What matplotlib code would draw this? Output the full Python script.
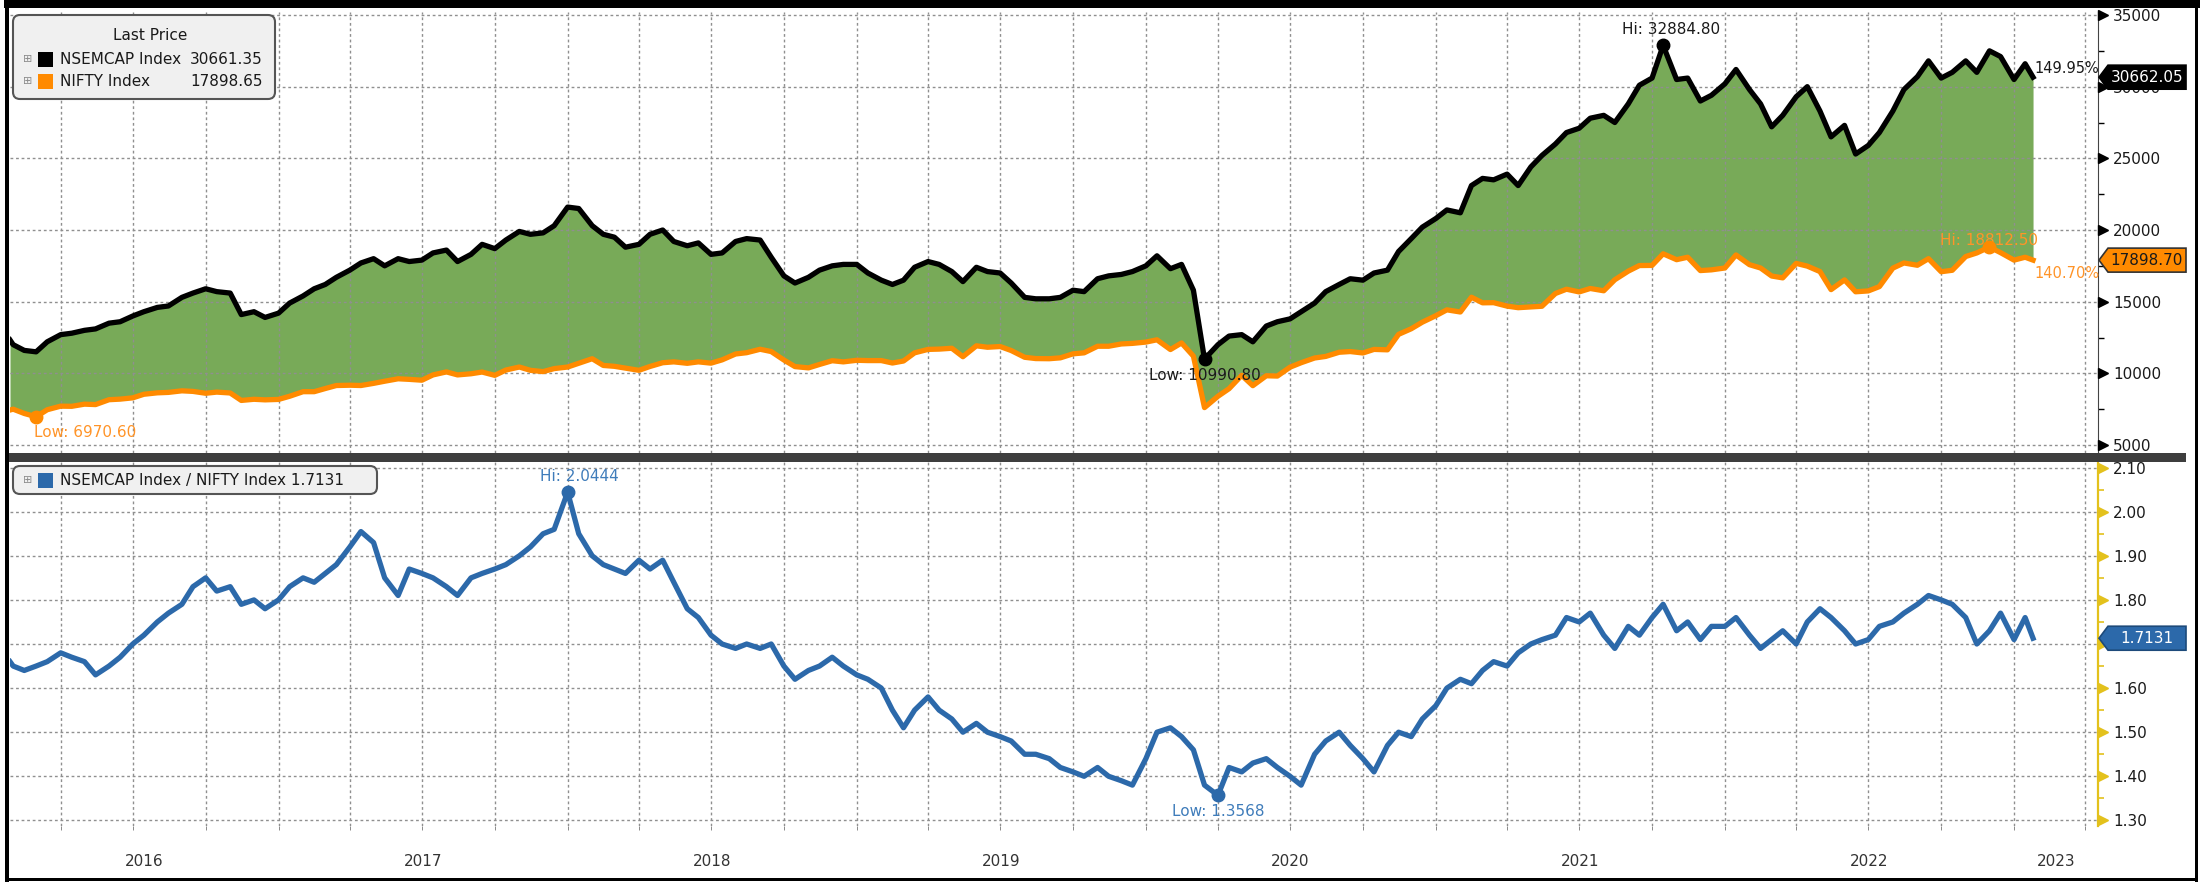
import matplotlib
matplotlib.use("Agg")
import matplotlib.pyplot as plt
import matplotlib.dates as mdates
import numpy as np
import pandas as pd
from matplotlib.patches import Rectangle, FancyBboxPatch, Polygon
from matplotlib.ticker import MultipleLocator, FormatStrFormatter, NullLocator

plt.rcParams['font.family'] = ['DejaVu Sans']

#Datas: 28/01/2016, dias 1 e 15 de cada mes, ultimo pregao 25/01/2023
datas = pd.DatetimeIndex(['2016-01-28']).append(
    pd.date_range('2016-02-01', '2023-01-15', freq='SMS')).append(
    pd.DatetimeIndex(['2023-01-25']))

nsemcap = [
    12330, 12000, 11600, 11500, 12200, 12700, 12800, 13000, 13100, 13500, 13600, 14000,
    14300, 14600, 14700, 15300, 15600, 15900, 15700, 15600, 14100, 14300, 13900,
    14200, 14900, 15400, 15900, 16200, 16700, 17200, 17700, 18000, 17500, 18000, 17800,
    17900, 18400, 18600, 17800, 18300, 19000, 18700, 19300, 19900, 19700, 19800, 20300,
    21600, 21500, 20300, 19700, 19500, 18800, 19000, 19700, 20000, 19200, 18900, 19100,
    18300, 18400, 19200, 19400, 19300, 18100, 16800, 16300, 16700, 17200, 17500, 17600,
    17600, 17000, 16500, 16200, 16500, 17400, 17800, 17600, 17100, 16400, 17400, 17100,
    17000, 16300, 15300, 15200, 15200, 15300, 15800, 15700, 16600, 16800, 16900, 17100,
    17500, 18200, 17300, 17600, 15800, 10990.80, 12000, 12600, 12700, 12200, 13300, 13600,
    13800, 14300, 14900, 15700, 16200, 16600, 16500, 17000, 17200, 18500, 19400, 20200,
    20800, 21400, 21200, 23100, 23600, 23500, 23900, 23100, 24400, 25200, 26000, 26800,
    27100, 27800, 28000, 27500, 28800, 30100, 30600, 32884.80, 30500, 30600, 29000, 29400,
    30200, 31200, 29800, 28800, 27200, 28000, 29300, 30000, 28300, 26500, 27300, 25300,
    25900, 26800, 28300, 29800, 30700, 31800, 30600, 31000, 31800, 31000, 32500, 32100,
    30500, 31600, 30662.05]

nifty = [
    7440, 7500, 7200, 6970.60, 7460, 7710, 7700, 7850, 7820, 8160, 8200, 8290,
    8540, 8640, 8670, 8780, 8740, 8610, 8690, 8630, 8110, 8190, 8150,
    8180, 8400, 8720, 8720, 8940, 9150, 9170, 9150, 9300, 9450, 9620, 9580,
    9520, 9890, 10100, 9890, 9970, 10090, 9860, 10230, 10440, 10210, 10120, 10330,
    10440, 10700, 11020, 10550, 10490, 10360, 10210, 10480, 10740, 10800, 10700, 10800,
    10710, 10940, 11350, 11440, 11680, 11520, 10930, 10470, 10380, 10620, 10880, 10800,
    10910, 10890, 10890, 10720, 10860, 11430, 11670, 11690, 11750, 11160, 11920, 11820,
    11870, 11590, 11120, 11030, 11020, 11080, 11360, 11430, 11890, 11890, 12050, 12090,
    12180, 12340, 11660, 12120, 11200, 7610, 8400, 8930, 9860, 9140, 9830, 9810,
    10430, 10740, 11070, 11180, 11470, 11520, 11420, 11670, 11640, 12720, 13110, 13570,
    14020, 14430, 14280, 15310, 14920, 14930, 14690, 14580, 14630, 14680, 15570, 15870,
    15680, 15920, 15760, 16530, 17130, 17520, 17530, 18340, 17930, 18100, 17170, 17220,
    17350, 18260, 17580, 17350, 16790, 16660, 17670, 17480, 17100, 15840, 16520, 15690,
    15750, 16050, 17340, 17700, 17540, 18000, 17090, 17190, 18150, 18400, 18812.50, 18420,
    17900, 18100, 17898.70]

razao = [
    1.66, 1.65, 1.64, 1.65, 1.66, 1.68, 1.67, 1.66, 1.63, 1.65, 1.67, 1.70,
    1.72, 1.75, 1.77, 1.79, 1.83, 1.85, 1.82, 1.83, 1.79, 1.80, 1.78,
    1.80, 1.83, 1.85, 1.84, 1.86, 1.88, 1.92, 1.955, 1.93, 1.85, 1.81, 1.87,
    1.86, 1.85, 1.83, 1.81, 1.85, 1.86, 1.87, 1.88, 1.90, 1.92, 1.95, 1.96,
    2.0444, 1.95, 1.90, 1.88, 1.87, 1.86, 1.89, 1.87, 1.89, 1.84, 1.78, 1.76,
    1.72, 1.70, 1.69, 1.70, 1.69, 1.70, 1.65, 1.62, 1.64, 1.65, 1.67, 1.65,
    1.63, 1.62, 1.60, 1.55, 1.51, 1.55, 1.58, 1.55, 1.53, 1.50, 1.52, 1.50,
    1.49, 1.48, 1.45, 1.45, 1.44, 1.42, 1.41, 1.40, 1.42, 1.40, 1.39, 1.38,
    1.44, 1.50, 1.51, 1.49, 1.46, 1.38, 1.3568, 1.42, 1.41, 1.43, 1.44, 1.42,
    1.40, 1.38, 1.45, 1.48, 1.50, 1.47, 1.44, 1.41, 1.47, 1.50, 1.49, 1.53,
    1.56, 1.60, 1.62, 1.61, 1.64, 1.66, 1.65, 1.68, 1.70, 1.71, 1.72, 1.76,
    1.75, 1.77, 1.72, 1.69, 1.74, 1.72, 1.76, 1.79, 1.73, 1.75, 1.71, 1.74,
    1.74, 1.76, 1.72, 1.69, 1.71, 1.73, 1.70, 1.75, 1.78, 1.76, 1.73, 1.70,
    1.71, 1.74, 1.75, 1.77, 1.79, 1.81, 1.80, 1.79, 1.76, 1.70, 1.73, 1.77,
    1.71, 1.76, 1.7131]

legendaNsemcap = '30661.35'
legendaNifty = '17898.65'
varNsemcap = '149.95%'
varNifty = '140.70%'
anos = [2016, 2017, 2018, 2019, 2020, 2021, 2022, 2023]

#Cores
corVerde = '#78aa58'
corLaranja = '#ff8a00'
corLaranjaTxt = '#ff9428'
corAzul = '#2c69aa'
corAzulTxt = '#3f7cba'
corAmarelo = '#e3c11c'
corGrade = '#8f8f8f'

W, H = 2200, 884
fig = plt.figure(figsize=(W / 100, H / 100), dpi=100, facecolor='white')

axTop = fig.add_axes([10 / W, 1 - 453 / H, 2088 / W, 441 / H])
axBot = fig.add_axes([10 / W, 1 - 826 / H, 2088 / W, 364 / H])

xIni = pd.Timestamp('2016-01-28')
xFim = pd.Timestamp('2023-04-17')

#Painel de cima: precos
axTop.fill_between(datas, nifty, nsemcap, color=corVerde, lw=0, zorder=1)
axTop.plot(datas, nifty, color=corLaranja, lw=3.8, zorder=3, solid_joinstyle='round')
axTop.plot(datas, nsemcap, color='black', lw=3.8, zorder=4, solid_joinstyle='round')

#Painel de baixo: razao
axBot.plot(datas, razao, color=corAzul, lw=3.8, zorder=3, solid_joinstyle='round')

gradeKw = dict(color=corGrade, linestyle=(0, (2, 2)), linewidth=1.0)
for ax in [axTop, axBot]:
    ax.set_xlim(xIni, xFim)
    ax.set_axisbelow('line')
    ax.set_facecolor('white')
    for s in ['top', 'left', 'bottom']:
        ax.spines[s].set_visible(False)
    ax.xaxis.set_minor_locator(mdates.MonthLocator(bymonth=[1, 4, 7, 10]))
    ax.grid(axis='x', which='minor', **gradeKw)
    ax.grid(axis='y', which='major', **gradeKw)
    ax.yaxis.tick_right()
    ax.tick_params(axis='y', which='major', length=0, pad=11, labelsize=11, labelcolor='#1a1a1a')

axTop.set_ylim(4442, 35210)
axTop.yaxis.set_major_locator(MultipleLocator(5000))
axTop.yaxis.set_minor_locator(MultipleLocator(2500))
axTop.tick_params(axis='y', which='minor', length=4, width=1, color='black')
axTop.spines['right'].set_color('#444444')
axTop.xaxis.set_major_locator(NullLocator())
axTop.tick_params(axis='x', which='both', bottom=False, labelbottom=False)

axBot.set_ylim(1.2873, 2.1127)
axBot.yaxis.set_major_locator(MultipleLocator(0.1))
axBot.yaxis.set_major_formatter(FormatStrFormatter('%.2f'))
axBot.yaxis.set_minor_locator(MultipleLocator(0.05))
axBot.tick_params(axis='y', which='minor', length=4, width=1.2, color=corAmarelo)
axBot.spines['right'].set_color(corAmarelo)
axBot.spines['right'].set_linewidth(1.6)

#Rotulos dos anos no meio da parte visivel de cada ano
centros = []
for a in anos:
    ini = max(pd.Timestamp(f'{a}-01-01'), xIni)
    fim = min(pd.Timestamp(f'{a}-12-31'), xFim)
    centros.append(ini + (fim - ini) / 2)
axBot.set_xticks(centros)
axBot.set_xticklabels([str(a) for a in anos])
axBot.tick_params(axis='x', which='major', length=0, pad=20, labelsize=11, labelcolor='#333333')
axBot.tick_params(axis='x', which='minor', length=3, color='#777777')

#Triangulos nos ticks do eixo direito
tTop = np.arange(5000, 35001, 5000)
axTop.plot(np.full(len(tTop), 1.0026), tTop, '>', ms=6.5, color='black',
           transform=axTop.get_yaxis_transform(), clip_on=False, zorder=5)
tBot = np.arange(1.3, 2.1001, 0.1)
axBot.plot(np.full(len(tBot), 1.0026), tBot, '>', ms=6.5, color=corAmarelo,
           transform=axBot.get_yaxis_transform(), clip_on=False, zorder=5)

#Maximos e minimos
def marca(ax, i, serie, cor, corTxt, txt, dx, dy, ha='center', zTxt=6):
    ax.plot([datas[i]], [serie[i]], 'o', ms=9, color=cor, zorder=6)
    ax.annotate(txt, (datas[i], serie[i]), xytext=(dx, dy), textcoords='offset pixels',
                ha=ha, va='center', fontsize=11, color=corTxt, zorder=zTxt)

iMax = int(np.argmax(nsemcap))
iMin = int(np.argmin(nsemcap))
marca(axTop, iMax, nsemcap, 'black', '#1a1a1a', f'Hi: {nsemcap[iMax]:.2f}', 8, 16)
marca(axTop, iMin, nsemcap, 'black', '#1a1a1a', f'Low: {nsemcap[iMin]:.2f}', 0, -16)
iMax = int(np.argmax(nifty))
iMin = int(np.argmin(nifty))
marca(axTop, iMax, nifty, corLaranja, corLaranjaTxt, f'Hi: {nifty[iMax]:.2f}', 0, 7, zTxt=2.5)
marca(axTop, iMin, nifty, corLaranja, corLaranjaTxt, f'Low: {nifty[iMin]:.2f}', -2, -16, ha='left')
iMax = int(np.argmax(razao))
iMin = int(np.argmin(razao))
marca(axBot, iMax, razao, corAzul, corAzulTxt, f'Hi: {razao[iMax]:.4f}', 12, 16)
marca(axBot, iMin, razao, corAzul, corAzulTxt, f'Low: {razao[iMin]:.4f}', 0, -16)

axTop.annotate(varNsemcap, (datas[-1], nsemcap[-1]), xytext=(1, 9), textcoords='offset pixels',
               ha='left', va='center', fontsize=10.5, color='#1a1a1a', annotation_clip=False, zorder=6)
axTop.annotate(varNifty, (datas[-1], nifty[-1]), xytext=(1, -13), textcoords='offset pixels',
               ha='left', va='center', fontsize=10.5, color=corLaranjaTxt, annotation_clip=False, zorder=6)

#Camada de cima em pixels para molduras, legendas e etiquetas
ov = fig.add_axes([0, 0, 1, 1], zorder=10)
ov.set_xlim(0, W)
ov.set_ylim(H, 0)
ov.set_axis_off()

ov.add_patch(Rectangle((4, 0), W - 4, 8, color='black', lw=0))
ov.add_patch(Rectangle((5, 0), 3.5, H - 2, color='black', lw=0))
ov.add_patch(Rectangle((5, 878), W - 7, 3, color='black', lw=0))
ov.add_patch(Rectangle((2195, 0), 2.5, H - 2, color='black', lw=0))
ov.add_patch(Rectangle((8.5, 453), 2177, 9, color='#3e3e3e', lw=0))

def caixaLegenda(x0, y0, x1, y1):
    ov.add_patch(FancyBboxPatch((x0, y0), x1 - x0, y1 - y0, boxstyle='round,pad=0,rounding_size=7',
                                fc='#f0f0f0', ec='#555555', lw=1.5))

def linhaLegenda(y, cor, txt, valor=None, xValor=263):
    ov.text(28, y, '\u229e', fontsize=8, color='#8a8a8a', ha='center', va='center')
    ov.add_patch(Rectangle((38, y - 7.5), 15, 15, fc=cor, ec='none'))
    ov.text(60, y, txt, fontsize=11, color='#1a1a1a', ha='left', va='center')
    if valor is not None:
        ov.text(xValor, y, valor, fontsize=11, color='#1a1a1a', ha='right', va='center')

caixaLegenda(13, 15, 275, 99)
ov.text(150, 36, 'Last Price', fontsize=11, color='#1a1a1a', ha='center', va='center')
linhaLegenda(59, 'black', 'NSEMCAP Index', legendaNsemcap)
linhaLegenda(81, corLaranja, 'NIFTY Index', legendaNifty)

caixaLegenda(13, 466, 377, 494)
linhaLegenda(480, corAzul, f'NSEMCAP Index / NIFTY Index {razao[-1]:.4f}')

#Etiquetas do ultimo valor no eixo direito
def etiqueta(ax, val, txt, fc, tc, ec):
    y = H - ax.transData.transform((ax.get_xlim()[0], val))[1]
    x0, x1, h = 2099, 2186, 24
    pts = [(x0, y), (x0 + 9, y - h / 2), (x1, y - h / 2), (x1, y + h / 2), (x0 + 9, y + h / 2)]
    ov.add_patch(Polygon(pts, closed=True, fc=fc, ec=ec, lw=1.2))
    ov.text((x0 + 9 + x1) / 2, y + 0.5, txt, fontsize=11, color=tc, ha='center', va='center')

etiqueta(axTop, nsemcap[-1], f'{nsemcap[-1]:.2f}', 'black', 'white', 'black')
etiqueta(axTop, nifty[-1], f'{nifty[-1]:.2f}', corLaranja, '#1a1a1a', '#333333')
etiqueta(axBot, razao[-1], f'{razao[-1]:.4f}', corAzul, 'white', '#1d4a7a')

fig.savefig('out.png', dpi=100, facecolor='white')
